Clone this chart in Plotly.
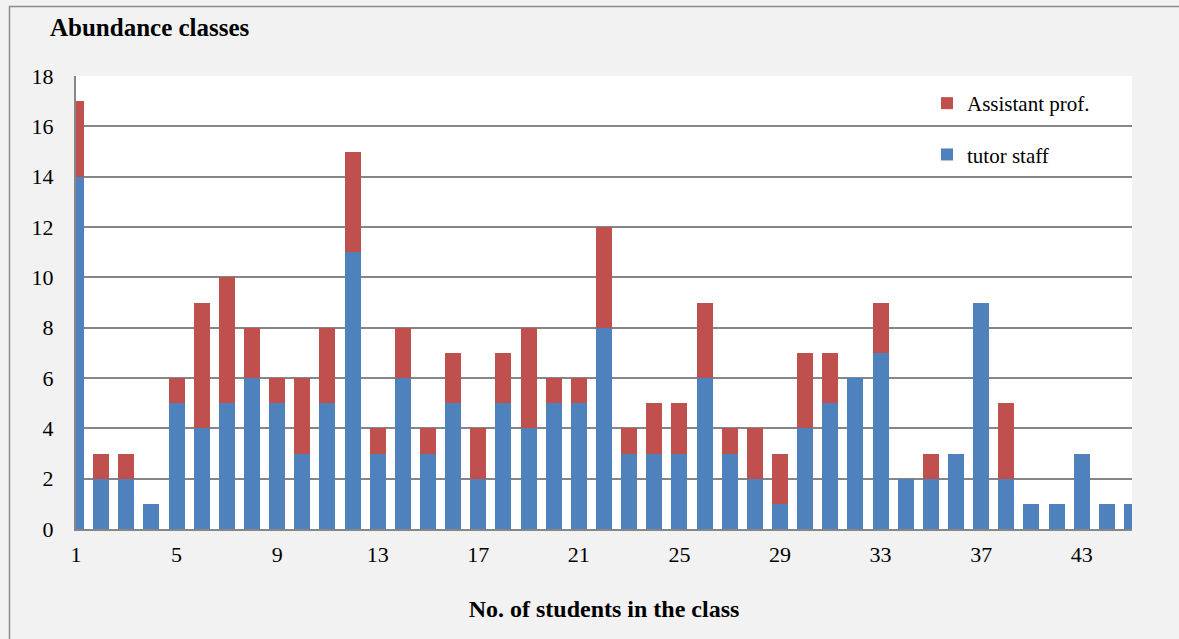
import plotly.graph_objects as go

# Data
categories = ["1", "2", "3", "4", "5", "6", "7", "8", "9", "10",
              "11", "12", "13", "14", "15", "16", "17", "18", "19", "20",
              "21", "22", "23", "24", "25", "26", "27", "28", "29", "30",
              "31", "32", "33", "34", "35", "36", "37", "38", "40", "42",
              "43", "44", "46"]
tutor_staff = [14, 2, 2, 1, 5, 4, 5, 6, 5, 3,
               5, 11, 3, 6, 3, 5, 2, 5, 4, 5,
               5, 8, 3, 3, 3, 6, 3, 2, 1, 4,
               5, 6, 7, 2, 2, 3, 9, 2, 1, 1,
               3, 1, 1]
assistant_prof = [3, 1, 1, 0, 1, 5, 5, 2, 1, 3,
                  3, 4, 1, 2, 1, 2, 2, 2, 4, 1,
                  1, 4, 1, 2, 2, 3, 1, 2, 2, 3,
                  2, 0, 2, 0, 1, 0, 0, 3, 0, 0,
                  0, 0, 0]
tick_labels = ["1", "5", "9", "13", "17", "21", "25", "29", "33", "37", "43"]

W, H = 1179, 639
L, R, T, B = 76, 47, 76, 110
pw, ph = W - L - R, H - T - B

FONT = "Liberation Serif, Times New Roman, serif"

fig = go.Figure()
fig.add_trace(go.Bar(
    x=categories, y=tutor_staff, name="tutor staff",
    marker=dict(color="#4F81BD", line=dict(width=0)),
    legendgroup="b", legendrank=2,
))
fig.add_trace(go.Bar(
    x=categories, y=assistant_prof, name="Assistant prof.",
    marker=dict(color="#C0504D", line=dict(width=0)),
    legendgroup="a", legendrank=1,
))

def px_x(x):
    return (x - L) / pw

def px_y(y):
    return 1 - (y - T) / ph

fig.update_layout(
    width=W, height=H,
    barmode="stack", bargap=0.36,
    margin=dict(l=L, r=R, t=T, b=B),
    paper_bgcolor="#f2f2f2", plot_bgcolor="#ffffff",
    font=dict(family=FONT, size=22, color="#000000"),
    title=dict(text="<b>Abundance classes</b>", x=50 / W, xanchor="left",
               y=1 - 27 / H, yanchor="middle",
               font=dict(family=FONT, size=25, color="#000000")),
    xaxis=dict(
        type="category", range=[0, len(categories) - 1],
        tickmode="array", tickvals=tick_labels, ticktext=tick_labels,
        showgrid=False, showline=True, linecolor="#868686", linewidth=2,
        ticks="", ticklabelstandoff=5,
        tickfont=dict(family=FONT, size=22, color="#000000"),
        title=dict(text="<b>No. of students in the class</b>", standoff=34,
                   font=dict(family=FONT, size=24, color="#000000")),
    ),
    yaxis=dict(
        range=[0, 18], dtick=2, tick0=0,
        showgrid=True, gridcolor="#868686", gridwidth=2,
        showline=True, linecolor="#868686", linewidth=2,
        zeroline=False, ticks="", ticklabelstandoff=16,
        tickfont=dict(family=FONT, size=22, color="#000000"),
    ),
    legend=dict(
        x=px_x(927), y=px_y(83), xanchor="left", yanchor="top",
        bgcolor="rgba(0,0,0,0)", traceorder="grouped",
        tracegroupgap=21, itemwidth=30,
        font=dict(family=FONT, size=21, color="#000000"),
    ),
    showlegend=True,
)

# outer chart-area border (left and top visible in the reference)
fig.add_shape(type="rect", xref="paper", yref="paper",
              x0=px_x(9.5), x1=px_x(1200), y0=px_y(6.5), y1=px_y(660),
              line=dict(color="#8c8c8c", width=1.5), fillcolor="rgba(0,0,0,0)",
              layer="below")

fig.write_html("out.html")
